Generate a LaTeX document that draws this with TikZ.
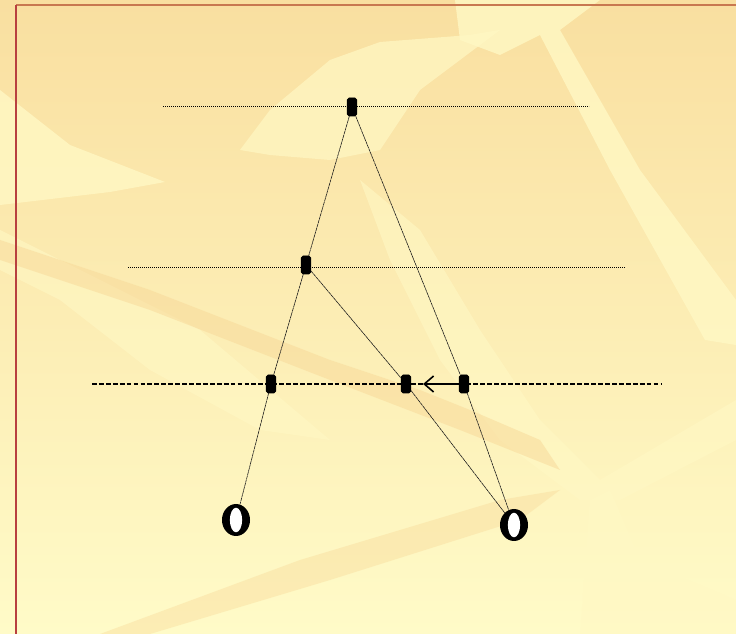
\documentclass[tikz,border=0pt]{standalone}
\usetikzlibrary{arrows.meta,shapes.geometric}
\definecolor{bgtop}{HTML}{F9DFA0}
\definecolor{bgbot}{HTML}{FFFBC8}
\definecolor{pale}{HTML}{FFF8C4}
\definecolor{deep}{HTML}{F8D898}
\definecolor{frameA}{HTML}{C87850}
\definecolor{frameB}{HTML}{B84040}
\tikzset{
  stn/.style={draw=black,fill=black,rounded corners=1.3pt,minimum width=7.2pt,minimum height=13.5pt,inner sep=0pt},
  ring/.style={ellipse,fill=black,minimum width=21pt,minimum height=24pt,inner sep=0pt},
  hole/.style={fill=white},
  ray/.style={line width=0.45pt,draw=black!90,dash pattern=on 2.5pt off 0.4pt},
  lev/.style={line width=0.75pt,dash pattern=on 0.7pt off 0.8pt},
  levd/.style={line width=0.85pt,dash pattern=on 3.6pt off 1.6pt},
}
\begin{document}
\begin{tikzpicture}[x=0.75pt,y=-0.75pt]
\useasboundingbox (0,0) rectangle (736,634);
% background
\shade[top color=bgtop,bottom color=bgbot] (0,0) rectangle (736,634);
\fill[pale,opacity=0.8] (0,90) -- (70,145) -- (165,182) -- (110,192) -- (0,205) -- cycle;
\fill[pale,opacity=0.8] (455,0) -- (600,0) -- (560,30) -- (640,170) -- (736,300) -- (736,345) -- (705,340) -- (610,170) -- (540,35) -- (500,55) -- (460,40) -- cycle;
\fill[pale,opacity=0.7] (240,150) -- (270,110) -- (330,60) -- (380,42) -- (470,35) -- (500,30) -- (420,90) -- (380,150) -- (330,160) -- (270,155) -- cycle;
\fill[pale,opacity=0.6] (360,180) -- (420,230) -- (480,330) -- (540,420) -- (600,480) -- (736,400) -- (736,440) -- (620,500) -- (580,500) -- (500,440) -- (440,360) -- (390,260) -- cycle;
\fill[pale,opacity=0.6] (0,230) -- (80,270) -- (200,330) -- (330,440) -- (260,430) -- (150,370) -- (60,300) -- (0,270) -- cycle;
\fill[pale,opacity=0.6] (590,500) -- (610,490) -- (640,560) -- (736,600) -- (736,634) -- (580,634) -- cycle;
\fill[deep,opacity=0.5] (0,240) -- (150,290) -- (330,360) -- (420,390) -- (470,410) -- (540,440) -- (560,470) -- (460,430) -- (330,380) -- (150,310) -- (0,260) -- cycle;
\fill[deep,opacity=0.4] (100,634) -- (300,560) -- (500,500) -- (560,490) -- (520,520) -- (330,580) -- (150,634) -- cycle;
% frame
\draw[frameA,line width=1.4pt] (16,5) -- (736,5);
\draw[frameB,line width=1.4pt] (16,5) -- (16,634);
% levels
\draw[lev] (163,107) coordinate (l1a) -- (589,107) coordinate (l1b);
\draw[lev] (128,268) coordinate (l2a) -- (625,268) coordinate (l2b);
\draw[levd] (92,384) coordinate (l3a) -- (661,384) coordinate (l3b);
% stations
\node[stn] (a) at (352,107) {};
\node[stn] (b) at (306,265) {};
\node[stn] (c) at (271,384) {};
\node[stn] (d) at (406,384) {};
\node[stn] (e) at (464,384) {};
\node[ring] (o1) at (236,520) {};
\node[ring] (o2) at (514,525) {};
\fill[hole] (o1.center) ellipse (4.6pt and 9.2pt);
\fill[hole] (o2.center) ellipse (4.6pt and 9.2pt);
% rays
\draw[ray] (a) -- (b) -- (c) -- (o1);
\draw[ray] (a) -- (e) -- (o2);
\draw[ray] (b) -- (d) -- (o2);
% arrow
\draw[line width=1.4pt,-{Straight Barb[length=7pt,width=12pt,line width=1.2pt]}] (e.west) -- ([xshift=9pt]d.east);
\end{tikzpicture}
\end{document}
